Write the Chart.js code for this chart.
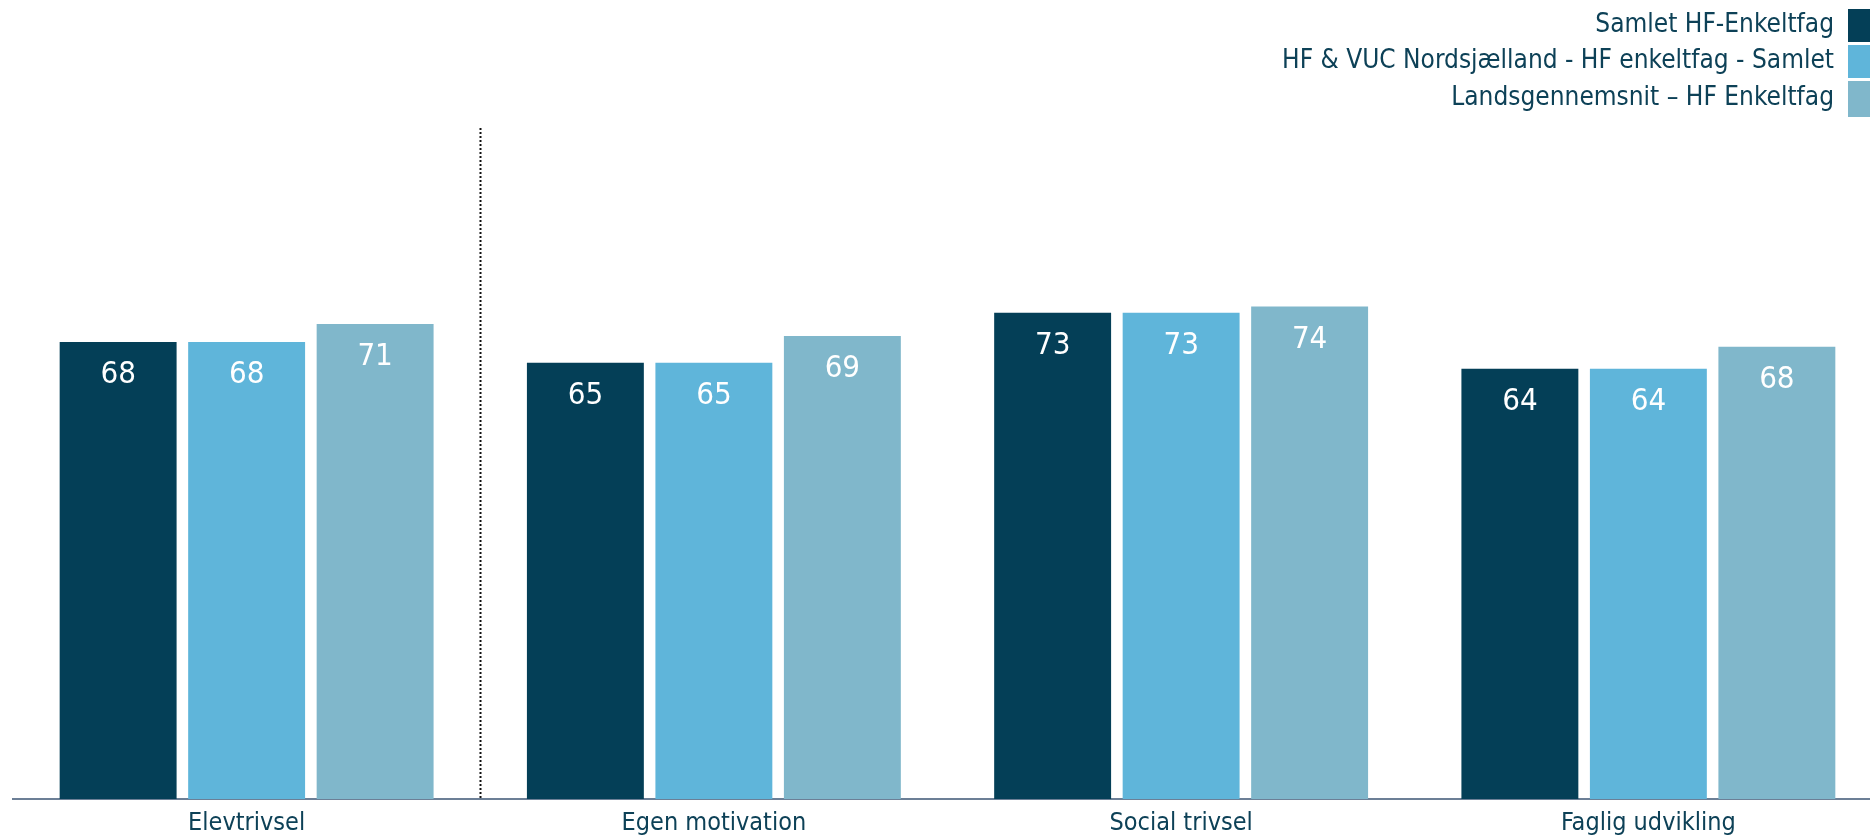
<!DOCTYPE html>
<html>
<head>
<meta charset="utf-8">
<script src="https://cdn.jsdelivr.net/npm/chart.js@4.4.1/dist/chart.umd.min.js"></script>
<style>
  html, body { margin: 0; padding: 0; overflow: hidden; background: #fff; }
  #wrap { position: relative; width: 1870px; height: 839px; overflow: hidden; }
  #box { position: absolute; left: 0; top: 0; width: 1882px; height: 839px; }
  #legend { position: absolute; right: 0; top: 9px; font-family: "DejaVu Sans Condensed", "DejaVu Sans", sans-serif; font-size: 26px; color: #0d4157; }
  #legend .row { display: flex; justify-content: flex-end; align-items: center; height: 33px; margin-bottom: 3px; }
  #legend .row:last-child { height: 36px; }
  #legend .row span { position: relative; top: -3px; }
  #legend .sw { width: 22px; height: 100%; margin-left: 14px; }
</style>
</head>
<body>
<div id="wrap">
  <div id="box"><canvas id="chart"></canvas></div>
  <div id="legend"></div>
</div>
<script>
// categories + series (bar heights, labels show rounded values)
const categories = ['Elevtrivsel', 'Egen motivation', 'Social trivsel', 'Faglig udvikling'];
const seriesNames = [
  'Samlet HF-Enkeltfag',
  'HF & VUC Nordsjælland - HF enkeltfag - Samlet',
  'Landsgennemsnit – HF Enkeltfag'
];
const samletValues = [68.3, 65.2, 72.7, 64.3];
const nordsjaellandValues = [68.3, 65.2, 72.7, 64.3];
const landsValues = [71.0, 69.2, 73.6, 67.6];
const seriesColors = ['#043f57', '#5fb5da', '#80b7cb'];

const FONT = '"DejaVu Sans Condensed", "DejaVu Sans", sans-serif';
const TEXT_COLOR = '#0d4157';

// html legend: text on the left, colour box on the right
const legendEl = document.getElementById('legend');
legendEl.innerHTML = seriesNames.map((n, i) =>
  `<div class="row"><span>${n}</span><div class="sw" style="background:${seriesColors[i]}"></div></div>`
).join('');

// white value labels inside the top of each bar
const barLabels = {
  id: 'barLabels',
  afterDatasetsDraw(chart) {
    const { ctx } = chart;
    ctx.save();
    ctx.fillStyle = '#ffffff';
    ctx.font = `31px ${FONT}`;
    ctx.textAlign = 'center';
    ctx.textBaseline = 'middle';
    chart.data.datasets.forEach((ds, di) => {
      chart.getDatasetMeta(di).data.forEach((bar, i) => {
        ctx.fillText(Math.round(ds.data[i]), bar.x, bar.y + 33);
      });
    });
    ctx.restore();
  }
};

// dotted separator between the first and second category
const separator = {
  id: 'separator',
  afterDatasetsDraw(chart) {
    const { ctx, chartArea } = chart;
    const xs = chart.scales.x;
    const x = Math.round((xs.getPixelForValue(0) + xs.getPixelForValue(1)) / 2) + 0.5;
    ctx.save();
    ctx.strokeStyle = '#111';
    ctx.lineWidth = 2;
    ctx.setLineDash([2, 2]);
    ctx.beginPath();
    ctx.moveTo(x, chartArea.top - 2);
    ctx.lineTo(x, chartArea.bottom);
    ctx.stroke();
    ctx.restore();
  }
};

new Chart(document.getElementById('chart'), {
  type: 'bar',
  data: {
    labels: categories,
    datasets: [samletValues, nordsjaellandValues, landsValues].map((vals, i) => ({
      label: seriesNames[i],
      data: vals,
      backgroundColor: seriesColors[i],
      borderWidth: 0,
      categoryPercentage: 0.825,
      barPercentage: 0.91
    }))
  },
  options: {
    responsive: true,
    maintainAspectRatio: false,
    animation: false,
    layout: { padding: { left: 13, top: 130, right: 0, bottom: 0 } },
    plugins: { legend: { display: false }, tooltip: { enabled: false } },
    scales: {
      x: {
        grid: { display: false, drawTicks: false },
        border: { display: true, color: '#6c7f96', width: 2 },
        ticks: { color: TEXT_COLOR, font: { family: FONT, size: 25 }, padding: 9 },
        afterFit(scale) { scale.height = 40; }
      },
      y: { display: false, min: 0, max: 100 }
    }
  },
  plugins: [barLabels, separator]
});
</script>
</body>
</html>
